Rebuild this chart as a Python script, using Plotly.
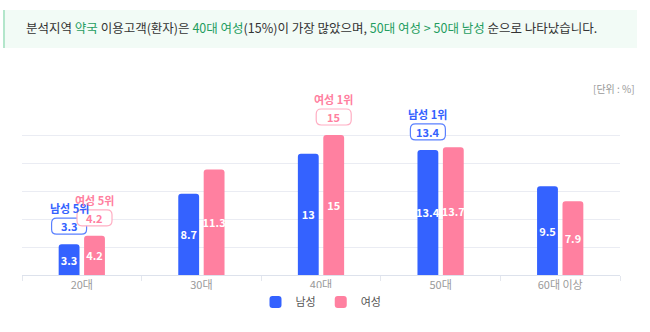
import plotly.graph_objects as go

categories = ["20대", "30대", "40대", "50대", "60대 이상"]
male = [3.3, 8.7, 13, 13.4, 9.5]
female = [4.2, 11.3, 15, 13.7, 7.9]
male_name = "남성"
female_name = "여성"
grid_vals = [0, 3, 6, 9, 12, 15]
# callouts: (series, category index, label)
callouts = [
    ("m", 0, "남성 5위"),
    ("f", 0, "여성 5위"),
    ("f", 2, "여성 1위"),
    ("m", 3, "남성 1위"),
]
unit_text = "[단위 : %]"
headline = ("분석지역 <span style='color:#1f9d60'>약국</span> 이용고객(환자)은 "
            "<span style='color:#1f9d60'>40대 여성</span>(15%)이 가장 많았으며, "
            "<span style='color:#1f9d60'>50대 여성 &gt; 50대 남성</span> 순으로 나타났습니다.")

BLUE = "#3462ff"
PINK = "#ff80a0"
FONT = "Noto Sans CJK KR"

W, H = 650, 332
L, R, T, B = 22, 30, 85, 57
plot_w = W - L - R
plot_h = H - T - B
px_per_unit = 140 / 15.0
ymax = plot_h / px_per_unit


def px2x(px):
    return (px - L) / plot_w


def py2y(py):
    return (H - B - py) / plot_h


fig = go.Figure()
for name, vals, col in [(male_name, male, BLUE), (female_name, female, PINK)]:
    fig.add_trace(go.Bar(
        x=categories, y=vals, name=name,
        marker=dict(color=col, line=dict(width=0)),
        texttemplate="<b>%{y}</b>", textposition="inside",
        insidetextanchor="middle", textangle=0, constraintext="none",
        textfont=dict(color="white", size=11, family=FONT),
        hoverinfo="skip",
    ))

shift = 12.75
annotations = []
shapes = []


def rrect(w, h, r, cy):
    x0, x1 = -w / 2, w / 2
    y0, y1 = cy - h / 2, cy + h / 2
    return (f"M {x0+r},{y0} L {x1-r},{y0} Q {x1},{y0} {x1},{y0+r} "
            f"L {x1},{y1-r} Q {x1},{y1} {x1-r},{y1} L {x0+r},{y1} "
            f"Q {x0},{y1} {x0},{y1-r} L {x0},{y0+r} Q {x0},{y0} {x0+r},{y0} Z")


for s, ci, label in callouts:
    vals = male if s == "m" else female
    col = BLUE if s == "m" else PINK
    border = "#5a80ff" if s == "m" else "#ffaec3"
    xs = -shift if s == "m" else shift
    v = vals[ci]
    shapes.append(dict(
        type="path", xref="x", yref="y", xsizemode="pixel", ysizemode="pixel",
        xanchor=ci + xs / 120.0, yanchor=v,
        path=rrect(35, 16, 5, 18),
        fillcolor="white", line=dict(color=border, width=1.2), layer="above",
    ))
    annotations.append(dict(
        x=categories[ci], y=v, xref="x", yref="y", xshift=xs, yshift=18,
        text=f"<b>{v}</b>", showarrow=False,
        font=dict(color=col, size=11, family=FONT),
    ))
    annotations.append(dict(
        x=categories[ci], y=v, xref="x", yref="y", xshift=xs, yshift=36,
        text=f"<b>{label}</b>", showarrow=False,
        font=dict(color=col, size=11, family=FONT),
    ))

# headline banner
shapes.append(dict(type="rect", xref="paper", yref="paper",
                   x0=px2x(3), x1=px2x(637), y0=py2y(48), y1=py2y(10),
                   fillcolor="#f2fbf6", line=dict(width=0), layer="below"))
shapes.append(dict(type="line", xref="paper", yref="paper",
                   x0=px2x(4), x1=px2x(4), y0=py2y(48), y1=py2y(10),
                   line=dict(color="#9edfbd", width=1.5)))
annotations.append(dict(xref="paper", yref="paper", x=px2x(24), y=py2y(28),
                        xanchor="left", yanchor="middle", showarrow=False,
                        text=headline,
                        font=dict(color="#333333", size=12.5, family=FONT)))
annotations.append(dict(xref="paper", yref="paper", x=px2x(637), y=py2y(88),
                        xanchor="right", yanchor="middle", showarrow=False,
                        text=unit_text,
                        font=dict(color="#999999", size=10, family=FONT)))

fig.update_layout(
    width=W, height=H,
    margin=dict(l=L, r=R, t=T, b=B),
    paper_bgcolor="white", plot_bgcolor="white",
    barmode="group", bargap=0.575, bargroupgap=0.18,
    barcornerradius=3,
    font=dict(family=FONT, color="#555555"),
    showlegend=True,
    legend=dict(orientation="h", x=0.5, xanchor="center",
                y=py2y(302), yanchor="middle",
                font=dict(size=11, color="#555555", family=FONT),
                itemsizing="constant", traceorder="normal"),
    xaxis=dict(showline=True, linecolor="#dde2ec", linewidth=1,
               ticks="outside", tickson="boundaries", ticklen=5,
               tickcolor="#e4e7ee", showgrid=False,
               tickfont=dict(size=11, color="#9a9a9a", family=FONT),
               fixedrange=True),
    yaxis=dict(range=[0, ymax], tickvals=grid_vals, showticklabels=False,
               showgrid=True, gridcolor="#eaecf3", gridwidth=1,
               zeroline=False, fixedrange=True),
    shapes=shapes, annotations=annotations,
)

fig.write_html("out.html")
